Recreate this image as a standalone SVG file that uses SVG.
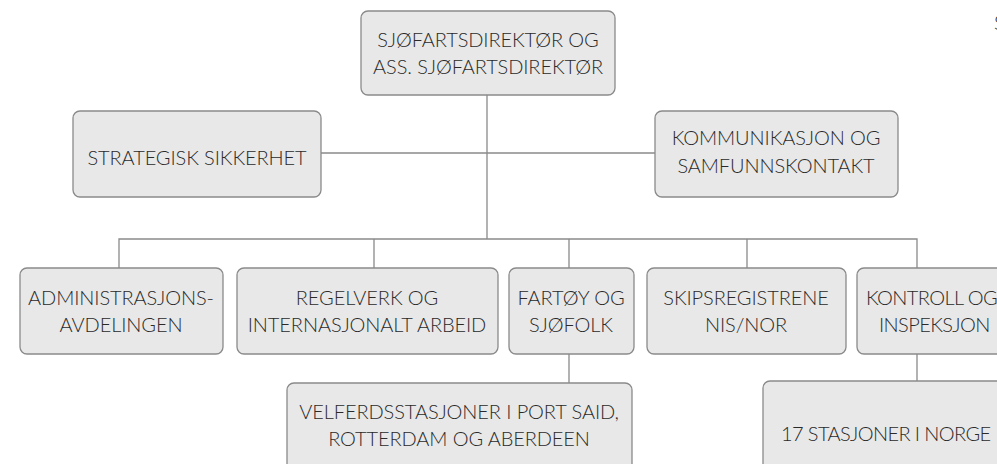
<svg xmlns="http://www.w3.org/2000/svg" width="997" height="464" viewBox="0 0 997 464">
<style>
.box{fill:#e8e8e8;stroke:#8a8a8a;stroke-width:1.3}
.t{font-family:Lato,"Open Sans","Liberation Sans",sans-serif;font-weight:300;font-size:20px;fill:#2a2a2a;text-anchor:middle;letter-spacing:-0.1px}
.s{text-anchor:start}
.n{letter-spacing:-0.6px}
.c{fill:none;stroke:#8a8a8a;stroke-width:1.3}
</style>
<rect width="997" height="464" fill="#fff"/>
<g id="connectors">
<path class="c" d="M487 95V239M321 153H655M119 268V239H917V268M374 239V268M569 239V268M747 239V268M569 354V383M917 354V381"/>
</g>
<g id="n-top"><rect class="box" x="361" y="11" width="254" height="84" rx="7"/><text class="t" x="488" y="47">SJØFARTSDIREKTØR OG</text><text class="t" x="488" y="74">ASS. SJØFARTSDIREKTØR</text></g>
<g id="n-strategisk"><rect class="box" x="73" y="111" width="248" height="86" rx="7"/><text class="t" x="197" y="165">STRATEGISK SIKKERHET</text></g>
<g id="n-kommunikasjon"><rect class="box" x="655" y="111" width="243" height="86" rx="7"/><text class="t" x="776" y="145">KOMMUNIKASJON OG</text><text class="t" x="776" y="173">SAMFUNNSKONTAKT</text></g>
<g id="n-admin"><rect class="box" x="20" y="268" width="203" height="86" rx="7"/><text class="t" x="121" y="305">ADMINISTRASJONS-</text><text class="t" x="121" y="332">AVDELINGEN</text></g>
<g id="n-regelverk"><rect class="box" x="237" y="268" width="261" height="86" rx="7"/><text class="t" x="367" y="305">REGELVERK OG</text><text class="t" x="367" y="332">INTERNASJONALT ARBEID</text></g>
<g id="n-fartoy"><rect class="box" x="509" y="268" width="125" height="86" rx="7"/><text class="t" x="571" y="305">FARTØY OG</text><text class="t" x="571" y="332">SJØFOLK</text></g>
<g id="n-skipsreg"><rect class="box" x="647" y="268" width="199" height="86" rx="7"/><text class="t" x="746" y="305">SKIPSREGISTRENE</text><text class="t" x="746" y="332">NIS/NOR</text></g>
<g id="n-kontroll"><rect class="box" x="857" y="268" width="160" height="86" rx="7"/><text class="t s n" x="866" y="305">KONTROLL OG</text><text class="t s n" x="879" y="332">INSPEKSJON</text></g>
<g id="n-velferd"><rect class="box" x="287" y="383" width="345" height="100" rx="7"/><text class="t" x="459" y="419">VELFERDSSTASJONER I PORT SAID,</text><text class="t" x="459" y="446">ROTTERDAM OG ABERDEEN</text></g>
<g id="n-stasjoner"><rect class="box" x="763" y="381" width="260" height="100" rx="7"/><text class="t s n" x="781" y="441">17 STASJONER I NORGE</text></g>
<text class="t s" x="994" y="30">S</text>
</svg>
